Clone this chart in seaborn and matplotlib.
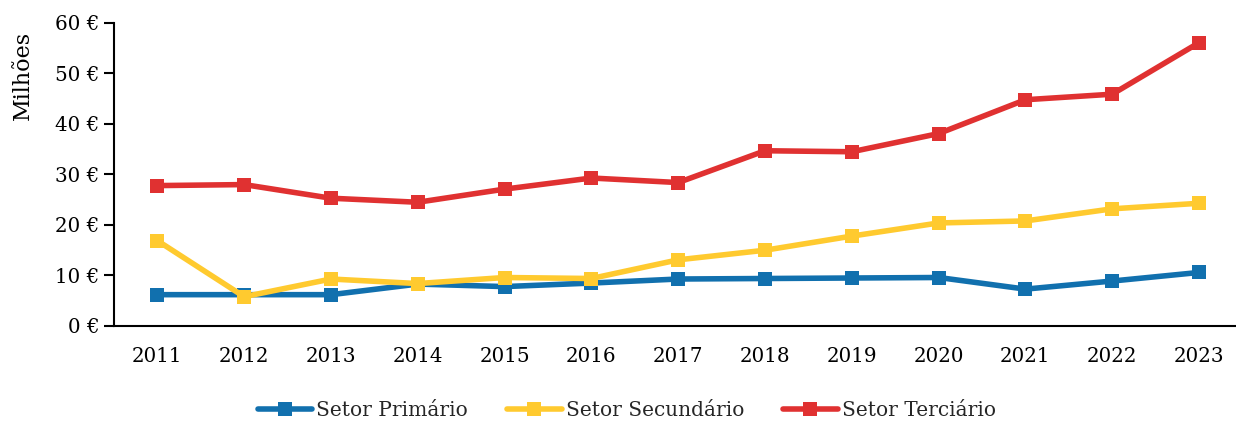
import pandas as pd
import seaborn as sns
import matplotlib.pyplot as plt
from matplotlib.ticker import FixedLocator, FuncFormatter

# Data (millions of euros)
anos = ["2011", "2012", "2013", "2014", "2015", "2016", "2017",
        "2018", "2019", "2020", "2021", "2022", "2023"]
primario = [6.2, 6.2, 6.2, 8.3, 7.8, 8.5, 9.3, 9.4, 9.5, 9.6, 7.3, 8.9, 10.6]
secundario = [16.9, 5.8, 9.3, 8.4, 9.6, 9.4, 13.1, 15.0, 17.8, 20.4, 20.8, 23.2, 24.3]
terciario = [27.8, 28.0, 25.3, 24.5, 27.1, 29.3, 28.4, 34.7, 34.5, 38.1, 44.8, 45.9, 56.1]

setores = ["Setor Primário", "Setor Secundário", "Setor Terciário"]
cores = {"Setor Primário": "#1170AE",
         "Setor Secundário": "#FFCA2F",
         "Setor Terciário": "#E03131"}

df = pd.DataFrame({"Ano": anos, "Setor Primário": primario,
                   "Setor Secundário": secundario, "Setor Terciário": terciario})
df = df.melt(id_vars="Ano", var_name="Setor", value_name="Valor")

sns.set_theme(style="white")
plt.rcParams['font.family'] = ['DejaVu Serif']

fig = plt.figure(figsize=(12.36, 4.21), dpi=100)
ax = fig.add_axes([0.0922, 0.2257, 0.913, 0.7197])

sns.lineplot(data=df, x="Ano", y="Valor", hue="Setor", hue_order=setores,
             palette=cores, marker="s", markersize=10.5, markeredgewidth=0,
             linewidth=4, ax=ax, legend=True)

ax.set_xlim(-0.5, 12.5)
ax.set_ylim(0, 60)
ax.set_yticks(range(0, 61, 10))
ax.yaxis.set_major_formatter(FuncFormatter(lambda v, p: f"{v:.0f} €"))
ax.xaxis.set_minor_locator(FixedLocator([i - 0.5 for i in range(14)]))
ax.tick_params(axis="x", which="major", length=0, labelsize=14.3, pad=15, colors="black")
ax.tick_params(axis="x", which="minor", length=7, width=1.5, color="black", direction="out")
ax.tick_params(axis="y", length=7, width=1.5, labelsize=14.3, colors="black", direction="out", left=True)
ax.set_xlabel("")
ax.set_ylabel("Milhões", fontsize=16, color="black")
ax.yaxis.set_label_coords(-0.071, 0.826)

sns.despine(ax=ax)
for s in ["left", "bottom"]:
    ax.spines[s].set_color("black")
    ax.spines[s].set_linewidth(1.5)

handles, labels = ax.get_legend_handles_labels()
ax.get_legend().remove()
fig.legend(handles, labels, loc="center", bbox_to_anchor=(0.507, 0.025), ncol=3,
           frameon=False, fontsize=14.5, handlelength=2.7, handletextpad=0.2,
           columnspacing=1.95, borderaxespad=0)

fig.savefig("out.png", dpi=100)
